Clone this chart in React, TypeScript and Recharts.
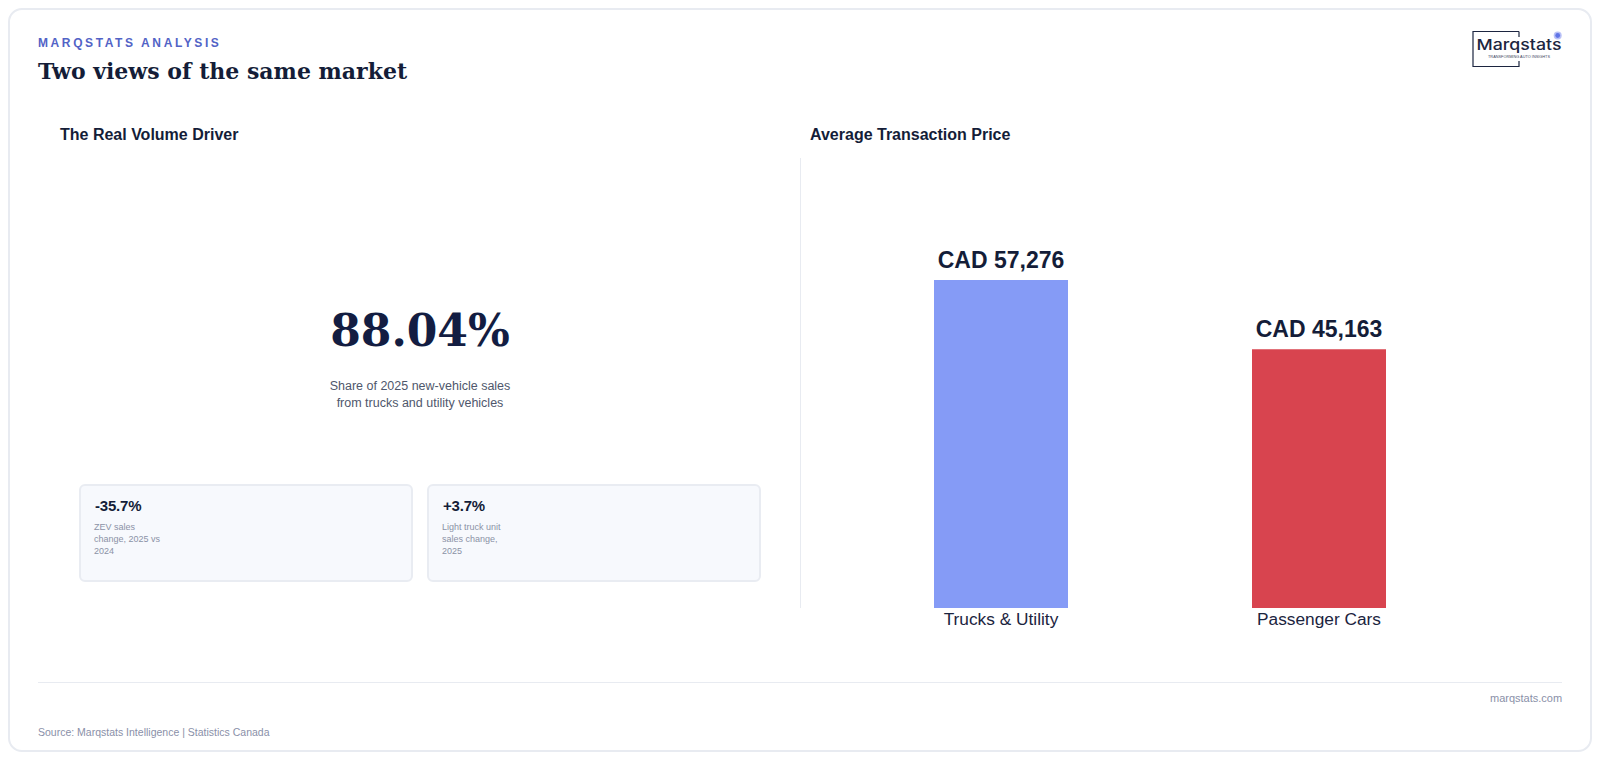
import React from "react";
import { BarChart, Bar, XAxis, YAxis, Cell, LabelList } from "recharts";

const categories = ["Trucks & Utility", "Passenger Cars"];
const prices = [57276, 45163];
const barColors = ["#859bf6", "#d8444f"];
const kpiCards = [
  { value: "-35.7%", lines: ["ZEV sales", "change, 2025 vs", "2024"] },
  { value: "+3.7%", lines: ["Light truck unit", "sales change,", "2025"] },
];

const chartData = categories.map((name, i) => ({ name, price: prices[i] }));
const SANS = "Liberation Sans, Arial, sans-serif";
const SERIF = "DejaVu Serif, serif";
const INK = "#141d38";

const abs = (left: number, top: number, extra: React.CSSProperties = {}): React.CSSProperties => ({
  position: "absolute",
  left,
  top,
  whiteSpace: "nowrap",
  ...extra,
});

function Logo() {
  return (
    <svg width={96} height={42} style={{ position: "absolute", left: 1470, top: 28 }}>
      <path d="M49 3.5H3V38.5H49V33M49 3.5V9" fill="none" stroke="#1c2540" strokeWidth={1.2} />
      <circle cx={87.7} cy={7.5} r={4} fill="#8a98f0" opacity={0.6} />
      <circle cx={87.7} cy={7.5} r={2.4} fill="#6074e6" />
      <text
        x={6.5}
        y={22}
        fontFamily="Inter, sans-serif"
        fontSize={15}
        fontWeight={500}
        fill="#1c2540"
        textLength={85}
        lengthAdjust="spacingAndGlyphs"
      >
        Marqstats
      </text>
      <text x={18} y={29.5} fontFamily={SANS} fontSize={3.8} fill="#3a425c" textLength={62}>
        TRANSFORMING AUTO INSIGHTS
      </text>
    </svg>
  );
}

export default function App() {
  return (
    <div
      style={{
        position: "relative",
        width: 1584,
        height: 744,
        boxSizing: "border-box",
        border: "2px solid #e8ebf1",
        borderRadius: 14,
        background: "#fff",
        fontFamily: SANS,
      }}
    >
      <div style={{ position: "absolute", left: -10, top: -10, width: 1600, height: 760 }}>
        <div style={abs(38, 36, { fontSize: 12, fontWeight: 700, letterSpacing: 2.6, color: "#5263c6" })}>
          MARQSTATS ANALYSIS
        </div>
        <div style={abs(38, 58, { fontFamily: SERIF, fontSize: 22, fontWeight: 700, color: INK })}>
          Two views of the same market
        </div>
        <Logo />

        <div style={abs(60, 126, { fontSize: 16, fontWeight: 700, color: INK })}>The Real Volume Driver</div>
        <div style={abs(810, 126, { fontSize: 16, fontWeight: 700, color: INK })}>Average Transaction Price</div>

        <div style={abs(80, 305, { width: 680, textAlign: "center", fontFamily: SERIF, fontSize: 44, fontWeight: 700, color: "#131d42" })}>
          88.04%
        </div>
        <div style={abs(80, 378, { width: 680, textAlign: "center", fontSize: 12.5, lineHeight: "17px", color: "#4f576c" })}>
          Share of 2025 new-vehicle sales
          <br />
          from trucks and utility vehicles
        </div>

        {kpiCards.map((card, i) => (
          <div
            key={card.value}
            style={abs(79 + i * 348, 484, {
              width: 334,
              height: 98,
              boxSizing: "border-box",
              border: "2px solid #e9ecf2",
              borderRadius: 6,
              background: "#f7f9fd",
            })}
          >
            <div style={abs(14, 11, { fontSize: 15, fontWeight: 700, letterSpacing: -0.2, color: INK })}>{card.value}</div>
            <div style={abs(13, 35, { fontSize: 9, lineHeight: "12px", color: "#8b92a6" })}>
              {card.lines.map((line) => (
                <div key={line}>{line}</div>
              ))}
            </div>
          </div>
        ))}

        <div style={{ position: "absolute", left: 800, top: 158, width: 1, height: 450, background: "#e8ebf1" }} />

        <div style={{ position: "absolute", left: 842, top: 158 }}>
          <BarChart
            width={636}
            height={490}
            data={chartData}
            margin={{ top: 0, right: 0, bottom: 0, left: 0 }}
          >
            <XAxis
              dataKey="name"
              axisLine={false}
              tickLine={false}
              interval={0}
              height={40}
              tick={{ fontSize: 17.3, fontFamily: SANS, fill: "#1b2440" }}
              tickMargin={-1}
            />
            <YAxis hide domain={[0, 78580]} />
            <Bar dataKey="price" barSize={134} isAnimationActive={false}>
              {chartData.map((d, i) => (
                <Cell key={d.name} fill={barColors[i]} />
              ))}
              <LabelList
                dataKey="price"
                position="top"
                offset={12}
                formatter={(v: any) => `CAD ${Number(v).toLocaleString("en-US")}`}
                style={{ fontSize: 23, fontWeight: 700, fontFamily: SANS, fill: INK }}
              />
            </Bar>
          </BarChart>
        </div>

        <div style={{ position: "absolute", left: 38, top: 682, width: 1524, height: 1, background: "#e8ebf1" }} />
        <div style={abs(1490, 692, { fontSize: 11, width: 71, textAlign: "right", color: "#8a90a8" })}>marqstats.com</div>
        <div style={abs(38, 726, { fontSize: 10.5, color: "#8a90a8" })}>Source: Marqstats Intelligence | Statistics Canada</div>
      </div>
    </div>
  );
}
